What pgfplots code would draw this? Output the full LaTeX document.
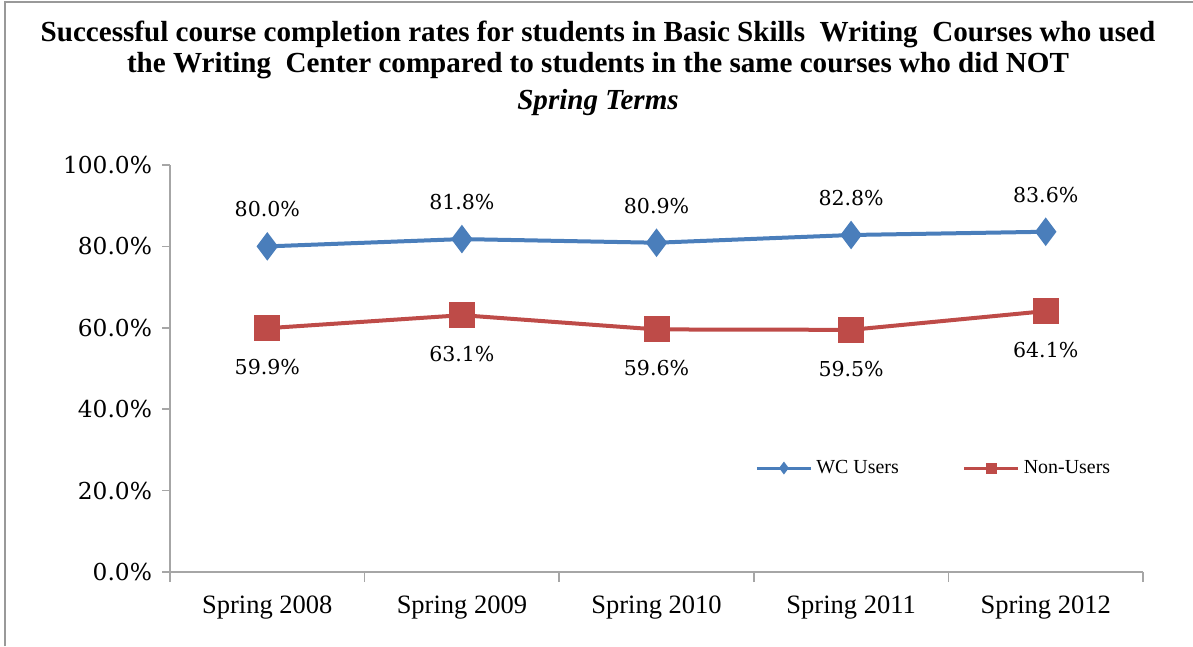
\documentclass[border=0pt]{standalone}
\usepackage{pgfplots}
\pgfplotsset{compat=1.18}
\usepackage{fontspec}
\setmainfont{Liberation Serif}
\newfontfamily\numfont{DejaVu Serif}
\definecolor{wcblue}{HTML}{4A7EBB}
\definecolor{nured}{HTML}{BE4B48}
\definecolor{axgray}{HTML}{A6A6A6}
\begin{document}
\begin{tikzpicture}[x=1bp,y=1bp]
\path[use as bounding box] (0,0) rectangle (596.5,323);
\draw[gray!80, line width=1bp] (2.5,0) -- (2.5,322) -- (596.5,322);
\node[font=\fontsize{14.6}{16}\selectfont\bfseries] at (299,306) {Successful course completion rates for students in Basic Skills\ \ Writing\ \ Courses who used};
\node[font=\fontsize{14.6}{16}\selectfont\bfseries] at (299,290) {the Writing\ \ Center compared to students in the same courses who did NOT};
\node[font=\fontsize{14.6}{16}\selectfont\bfseries\itshape] at (299,271.5) {Spring Terms};
\begin{axis}[
  at={(85bp,37bp)}, anchor=south west,
  scale only axis, width=486.5bp, height=203.5bp,
  xmin=-0.5, xmax=4.5, ymin=0, ymax=100,
  axis x line=bottom, axis y line=left,
  axis line style={axgray, line width=0.75bp, -},
  xtick={0,...,4},
  xticklabels={Spring 2008,Spring 2009,Spring 2010,Spring 2011,Spring 2012},
  minor xtick={-0.5,0.5,...,4.5},
  major x tick style={draw=none},
  minor x tick style={axgray, line width=0.75bp},
  minor tick length=5bp,
  ytick={0,20,...,100},
  y tick style={axgray, line width=0.75bp},
  major tick length=4bp,
  tick align=outside,
  xticklabel style={font=\fontsize{13.3}{15}\selectfont, yshift=-4.5bp},
  yticklabel style={font=\numfont\fontsize{11.7}{13}\selectfont, xshift=-1.5bp},
  /pgf/number format/assume math mode=true,
  yticklabel={\pgfmathprintnumber[fixed,fixed zerofill,precision=1]{\tick}\%},
  nodes near coords={\pgfmathprintnumber[fixed,fixed zerofill,precision=1,assume math mode=true]{\pgfplotspointmeta}\%},
  point meta=y,
  every node near coord/.append style={font=\numfont\fontsize{10.3}{12}\selectfont, text=black, anchor=center},
  legend style={at={(0.786,0.2555)}, anchor=center, draw=none, fill=none,
    font=\fontsize{10}{11}\selectfont, legend columns=2,
    /tikz/every even column/.append style={column sep=30bp}},
  legend image code/.code={\draw[#1, line width=1.5bp, mark size=2bp, mark repeat=2, mark phase=2] plot coordinates {(0bp,0bp) (13.5bp,0bp) (27bp,0bp)};},
  clip=false,
]
\addplot[wcblue, line width=2bp, mark=diamond*, mark size=5.5bp, mark options={solid},
  every node near coord/.append style={yshift=18.5bp}]
  coordinates {(0,80.0) (1,81.8) (2,80.9) (3,82.8) (4,83.6)};
\addlegendentry{WC Users}
\addplot[nured, line width=2bp, mark=square*, mark size=5.5bp, mark options={solid},
  every node near coord/.append style={yshift=-19.5bp}]
  coordinates {(0,59.9) (1,63.1) (2,59.6) (3,59.5) (4,64.1)};
\addlegendentry{Non-Users}
\end{axis}
\end{tikzpicture}
\end{document}
